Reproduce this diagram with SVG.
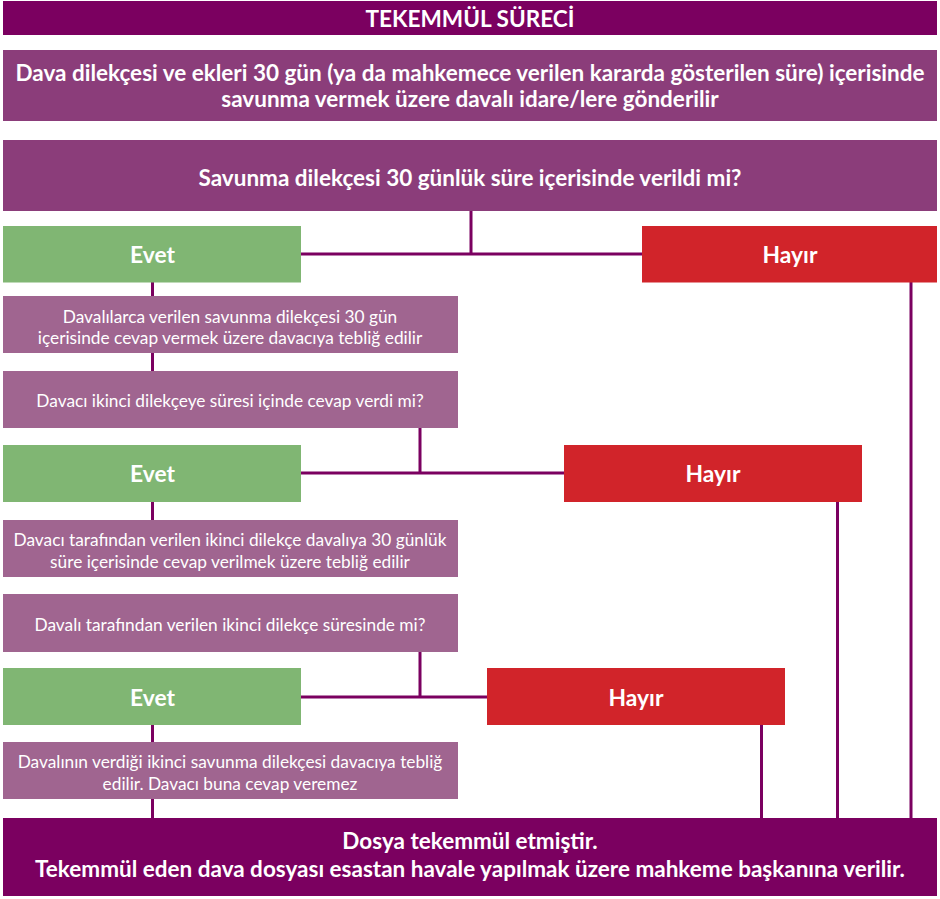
<svg xmlns="http://www.w3.org/2000/svg" width="940" height="899" viewBox="0 0 940 899">
  <style>
    text { font-family: Lato, "Open Sans", "Liberation Sans", sans-serif; fill: #ffffff; text-anchor: middle; dominant-baseline: central; }
    .b { font-weight: bold; }
    .h { font-size: 22.6px; }
    .big { font-size: 22.5px; }
    .yn { font-size: 22.8px; }
    .sm { font-size: 17.3px; }
    .dark { fill: #7b0060; }
    .mid { fill: #8b3d7a; }
    .step { fill: #a06590; }
    .yes { fill: #80b673; }
    .no { fill: #d1242a; }
    .wire { stroke: #7b0060; stroke-width: 3; fill: none; }
  </style>

  <!-- connectors -->
  <g id="connectors" class="wire">
    <path d="M471 211 V254 M301 254 H642"/>
    <path d="M911 282 V818"/>
    <path d="M152.5 282 V296 M152.5 353 V371"/>
    <path d="M420 428 V473 M301 473 H564"/>
    <path d="M837.5 502 V818"/>
    <path d="M152.5 502 V520"/>
    <path d="M420 652 V697 M301 697 H487"/>
    <path d="M761.5 725 V818"/>
    <path d="M152.5 725 V742 M152.5 799 V818"/>
  </g>

  <g id="title">
    <rect class="dark" x="3" y="1" width="934" height="34"/>
    <text class="b h" x="470" y="18.5">TEKEMMÜL SÜRECİ</text>
  </g>

  <g id="send">
    <rect class="mid" x="3" y="50" width="934" height="71"/>
    <text class="b big" x="470" y="72">Dava dilekçesi ve ekleri 30 gün (ya da mahkemece verilen kararda gösterilen süre) içerisinde</text>
    <text class="b big" x="470" y="98">savunma vermek üzere davalı idare/lere gönderilir</text>
  </g>

  <g id="q1">
    <rect class="mid" x="3" y="140" width="934" height="71"/>
    <text class="b big" x="470" y="177">Savunma dilekçesi 30 günlük süre içerisinde verildi mi?</text>
  </g>

  <g id="yes1">
    <rect class="yes" x="3" y="226" width="298" height="56.5"/>
    <text class="b yn" x="152.5" y="254">Evet</text>
  </g>

  <g id="no1">
    <rect class="no" x="642" y="226" width="295" height="56.5"/>
    <text class="b yn" x="790" y="254">Hayır</text>
  </g>

  <g id="notify1">
    <rect class="step" x="3" y="296" width="455" height="57"/>
    <text class="sm" x="230" y="316">Davalılarca verilen savunma dilekçesi 30 gün</text>
    <text class="sm" x="230" y="337">içerisinde cevap vermek üzere davacıya tebliğ edilir</text>
  </g>

  <g id="q2">
    <rect class="step" x="3" y="371" width="455" height="57"/>
    <text class="sm" x="230" y="400">Davacı ikinci dilekçeye süresi içinde cevap verdi mi?</text>
  </g>

  <g id="yes2">
    <rect class="yes" x="3" y="445" width="298" height="57"/>
    <text class="b yn" x="152.5" y="473">Evet</text>
  </g>

  <g id="no2">
    <rect class="no" x="564" y="445" width="298" height="57"/>
    <text class="b yn" x="713" y="473">Hayır</text>
  </g>

  <g id="notify2">
    <rect class="step" x="3" y="520" width="455" height="57"/>
    <text class="sm" x="230" y="539">Davacı tarafından verilen ikinci dilekçe davalıya 30 günlük</text>
    <text class="sm" x="230" y="561">süre içerisinde cevap verilmek üzere tebliğ edilir</text>
  </g>

  <g id="q3">
    <rect class="step" x="3" y="594" width="455" height="58"/>
    <text class="sm" x="230" y="624">Davalı tarafından verilen ikinci dilekçe süresinde mi?</text>
  </g>

  <g id="yes3">
    <rect class="yes" x="3" y="668" width="298" height="57"/>
    <text class="b yn" x="152.5" y="697">Evet</text>
  </g>

  <g id="no3">
    <rect class="no" x="487" y="668" width="298" height="57"/>
    <text class="b yn" x="636" y="697">Hayır</text>
  </g>

  <g id="notify3">
    <rect class="step" x="3" y="742" width="455" height="57"/>
    <text class="sm" x="230" y="761">Davalının verdiği ikinci savunma dilekçesi davacıya tebliğ</text>
    <text class="sm" x="230" y="783">edilir. Davacı buna cevap veremez</text>
  </g>

  <g id="complete">
    <rect class="dark" x="3" y="818" width="934" height="78"/>
    <text class="b big" x="470" y="840">Dosya tekemmül etmiştir.</text>
    <text class="b big" x="470" y="868">Tekemmül eden dava dosyası esastan havale yapılmak üzere mahkeme başkanına verilir.</text>
  </g>
</svg>
